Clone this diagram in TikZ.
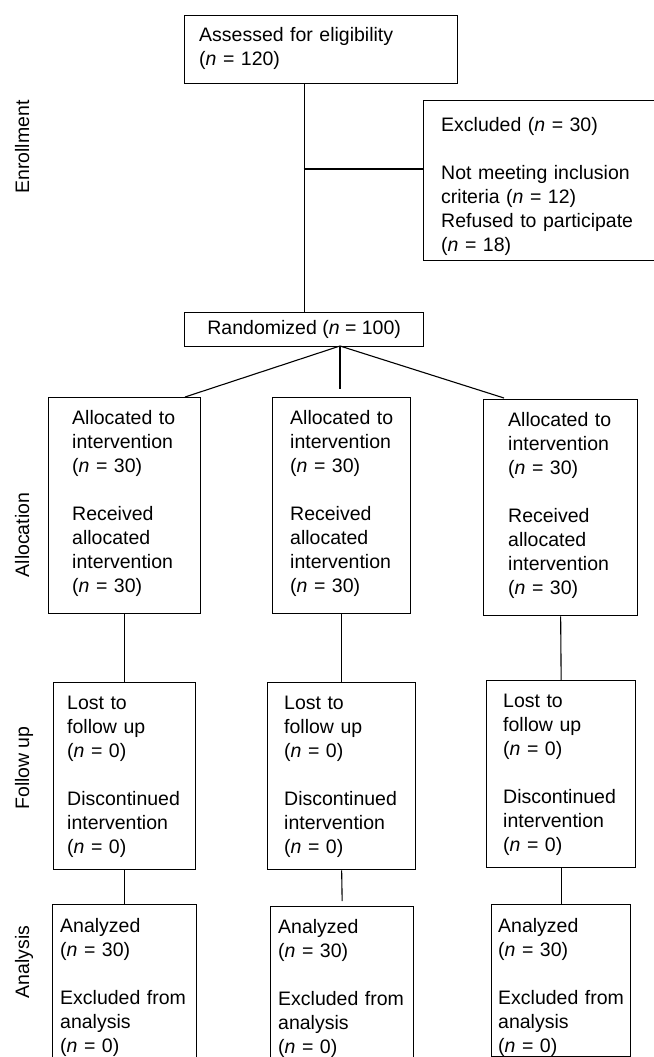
\documentclass[tikz,border=0pt]{standalone}
\usepackage{fontspec}
\setmainfont{Liberation Sans}
\newcommand\ncount[1]{(\textit{n} = #1)}
\begin{document}
\begin{tikzpicture}[x=1pt,y=-1pt,
  box/.style={draw, line width=1.3pt, inner sep=0pt, anchor=north west},
  txt/.style={font=\fontsize{19.5}{24}\selectfont, inner sep=0pt, anchor=base west, text width=#1, align=left},
  lbl/.style={font=\fontsize{19.5}{24}\selectfont, rotate=90, anchor=base, inner sep=0pt},
  conn/.style={line width=1.1pt}]
\useasboundingbox (0,0) rectangle (653,1057);
% side labels
\node[lbl] (lEnr) at (29,147) {Enrollment};
\node[lbl] (lAll) at (29,535) {Allocation};
\node[lbl] (lFol) at (29,768) {Follow up};
\node[lbl] (lAna) at (29,962) {Analysis};
% boxes
\node[box, minimum width=273pt, minimum height=68pt] (top) at (184,15) {};
\node[box, minimum width=240pt, minimum height=160pt] (excl) at (423,100) {};
\node[box, minimum width=239pt, minimum height=34pt, font=\fontsize{19.5}{24}\selectfont] (rand) at (184,312) {Randomized \ncount{100}};
\node[box, minimum width=152pt, minimum height=216pt] (allocL) at (48,397) {};
\node[box, minimum width=138pt, minimum height=216pt] (allocM) at (272,397) {};
\node[box, minimum width=154pt, minimum height=216pt] (allocR) at (483,399) {};
\node[box, minimum width=142pt, minimum height=187pt] (folL) at (53,682) {};
\node[box, minimum width=148pt, minimum height=187pt] (folM) at (267,682) {};
\node[box, minimum width=149pt, minimum height=187pt] (folR) at (486,680) {};
\node[box, minimum width=144pt, minimum height=170pt] (anaL) at (52,904) {};
\node[box, minimum width=143pt, minimum height=170pt] (anaM) at (270,906) {};
\node[box, minimum width=139pt, minimum height=152pt] (anaR) at (491,904) {};
% texts
\node[txt=250pt] (topT) at (199,42) {Assessed for eligibility\\\ncount{120}};
\node[txt=220pt] (exclT) at (441,131) {Excluded \ncount{30}\\[24pt]Not meeting inclusion\\criteria \ncount{12}\\Refused to participate\\\ncount{18}};
\node[txt=130pt] (allocLT) at (72,424) {Allocated to\\intervention\\\ncount{30}\\[24pt]Received\\allocated\\intervention\\\ncount{30}};
\node[txt=130pt] (allocMT) at (290,424) {Allocated to\\intervention\\\ncount{30}\\[24pt]Received\\allocated\\intervention\\\ncount{30}};
\node[txt=130pt] (allocRT) at (508,426) {Allocated to\\intervention\\\ncount{30}\\[24pt]Received\\allocated\\intervention\\\ncount{30}};
\node[txt=140pt] (folLT) at (67,709) {Lost to\\follow up\\\ncount{0}\\[24pt]Discontinued\\intervention\\\ncount{0}};
\node[txt=140pt] (folMT) at (284,709) {Lost to\\follow up\\\ncount{0}\\[24pt]Discontinued\\intervention\\\ncount{0}};
\node[txt=140pt] (folRT) at (503,707) {Lost to\\follow up\\\ncount{0}\\[24pt]Discontinued\\intervention\\\ncount{0}};
\node[txt=140pt] (anaLT) at (60,932) {Analyzed\\\ncount{30}\\[24pt]Excluded from\\analysis\\\ncount{0}};
\node[txt=140pt] (anaMT) at (278,933) {Analyzed\\\ncount{30}\\[24pt]Excluded from\\analysis\\\ncount{0}};
\node[txt=140pt] (anaRT) at (498,932) {Analyzed\\\ncount{30}\\[24pt]Excluded from\\analysis\\\ncount{0}};
% connectors
\draw[conn] (rand.north) -- (rand.north |- top.south);
\coordinate (br) at (303.5,169);
\draw[conn] (br) -- (br -| excl.west);
\coordinate (apex) at (340,346);
\coordinate (endL) at (185,397);
\coordinate (endM) at (340,389);
\coordinate (endR) at (504,398);
\draw[conn] (apex) -- (endL);
\draw[conn] (apex) -- (endM);
\draw[conn] (apex) -- (endR);
\draw[conn] (allocL.south) -- (folL.north);
\draw[conn] (allocM.south) -- (folM.north);
\draw[conn] (allocR.south) -- (folR.north);
\draw[conn] (folL.south) -- (anaL.north);
\draw[conn] (folM.south) -- ([yshift=5pt]anaM.north);
\draw[conn] (folR.south) -- (anaR.north);
\end{tikzpicture}
\end{document}
